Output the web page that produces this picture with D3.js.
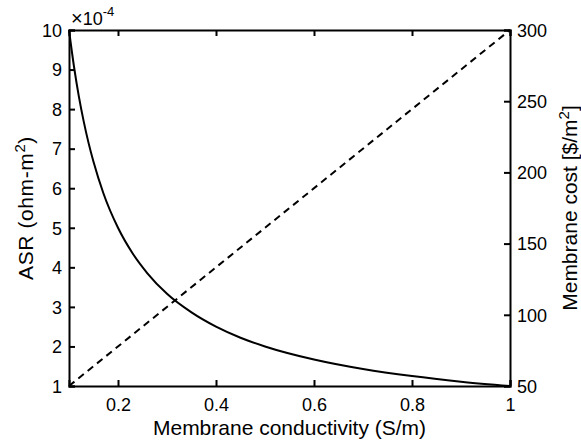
<!DOCTYPE html>
<html>
<head>
<meta charset="utf-8">
<script src="https://cdn.jsdelivr.net/npm/d3@7"></script>
<style>
  body { margin: 0; background: #fff; }
  svg text { font-family: "Liberation Sans", Arial, sans-serif; fill: #000; }
</style>
</head>
<body>
<div id="chart"></div>
<script>
// conductivity (S/m)
const conductivity = [0.1, 0.11, 0.12, 0.13, 0.14, 0.15, 0.17, 0.2, 0.23, 0.26, 0.3, 0.35, 0.4, 0.45, 0.5, 0.6, 0.7, 0.8, 0.9, 1.0];
// ASR in units of 1e-4 ohm-m^2
const asrValues = [10, 9.09, 8.33, 7.69, 7.14, 6.67, 5.88, 5.0, 4.35, 3.85, 3.33, 2.86, 2.5, 2.22, 2.0, 1.67, 1.43, 1.25, 1.11, 1.0];
// membrane cost ($/m^2) – straight dashed line
const costX = [0.1, 1.0];
const costValues = [50, 300];

const xTicks = [0.2, 0.4, 0.6, 0.8, 1];
const leftTicks = [1, 2, 3, 4, 5, 6, 7, 8, 9, 10];
const rightTicks = [50, 100, 150, 200, 250, 300];

const W = 581, H = 445;
const margin = { top: 30, right: 71, bottom: 59, left: 69 };
const width = W - margin.left - margin.right;
const height = H - margin.top - margin.bottom;

const svg = d3.select("#chart").append("svg")
  .attr("width", W).attr("height", H);
const g = svg.append("g").attr("transform", `translate(${margin.left},${margin.top})`);

const x = d3.scaleLinear().domain([0.1, 1]).range([0, width]);
const yL = d3.scaleLinear().domain([1, 10]).range([height, 0]);
const yR = d3.scaleLinear().domain([50, 300]).range([height, 0]);

const tick = 6;
const fs = "18px";
const titleFs = "21px";

// axes - ticks pointing inward
const axBottom = g.append("g").attr("transform", `translate(0,${height})`)
  .call(d3.axisBottom(x).tickValues(xTicks).tickSize(-tick).tickFormat(d3.format("")));
const axTop = g.append("g")
  .call(d3.axisTop(x).tickValues(xTicks).tickSize(-tick).tickFormat(""));
const axLeft = g.append("g")
  .call(d3.axisLeft(yL).tickValues(leftTicks).tickSize(-tick));
const axRight = g.append("g").attr("transform", `translate(${width},0)`)
  .call(d3.axisRight(yR).tickValues(rightTicks).tickSize(-tick));

[axBottom, axTop, axLeft, axRight].forEach(a => {
  a.select(".domain").attr("stroke", "#000").attr("stroke-width", 2);
  a.selectAll(".tick line").attr("stroke", "#000").attr("stroke-width", 2);
  a.selectAll(".tick text").style("font-size", fs).attr("fill", "#000");
});
axRight.selectAll(".tick text").attr("x", 7).attr("dy", "0.35em");
axLeft.selectAll(".tick text").attr("x", -7).attr("dy", "0.35em");
axBottom.selectAll(".tick text").attr("y", 25).attr("dy", 0);

// exponent label
const expo = g.append("text").attr("x", 2).attr("y", -5).style("font-size", fs);
expo.append("tspan").style("font-size", "20px").text("\u00d7");
expo.append("tspan").text("10");
expo.append("tspan").attr("dy", -9).style("font-size", "13px").text("-4");

// curves
const asrLine = d3.line()
  .x((d, i) => x(conductivity[i]))
  .y(d => yL(d))
  .curve(d3.curveMonotoneX);
g.append("path").datum(asrValues)
  .attr("d", asrLine)
  .attr("fill", "none").attr("stroke", "#000").attr("stroke-width", 2);

const costLine = d3.line()
  .x((d, i) => x(costX[i]))
  .y(d => yR(d));
g.append("path").datum(costValues)
  .attr("d", costLine)
  .attr("fill", "none").attr("stroke", "#000").attr("stroke-width", 2)
  .attr("stroke-dasharray", "7,5");

// axis titles
g.append("text")
  .attr("x", width / 2).attr("y", height + 49)
  .attr("text-anchor", "middle").style("font-size", titleFs)
  .text("Membrane conductivity (S/m)");

const lt = svg.append("text")
  .attr("transform", `translate(33,${margin.top + height / 2}) rotate(-90)`)
  .attr("text-anchor", "middle").style("font-size", titleFs)
  .style("letter-spacing", "0.6px");
lt.append("tspan").text("ASR (ohm-m");
lt.append("tspan").attr("dy", -8).style("font-size", "15px").text("2");
lt.append("tspan").attr("dy", 8).text(")");

const rt = svg.append("text")
  .attr("transform", `translate(577,${margin.top + height / 2}) rotate(-90)`)
  .attr("text-anchor", "middle").style("font-size", titleFs);
rt.append("tspan").text("Membrane cost [$/m");
rt.append("tspan").attr("dy", -8).style("font-size", "15px").text("2");
rt.append("tspan").attr("dy", 8).text("]");
</script>
</body>
</html>
